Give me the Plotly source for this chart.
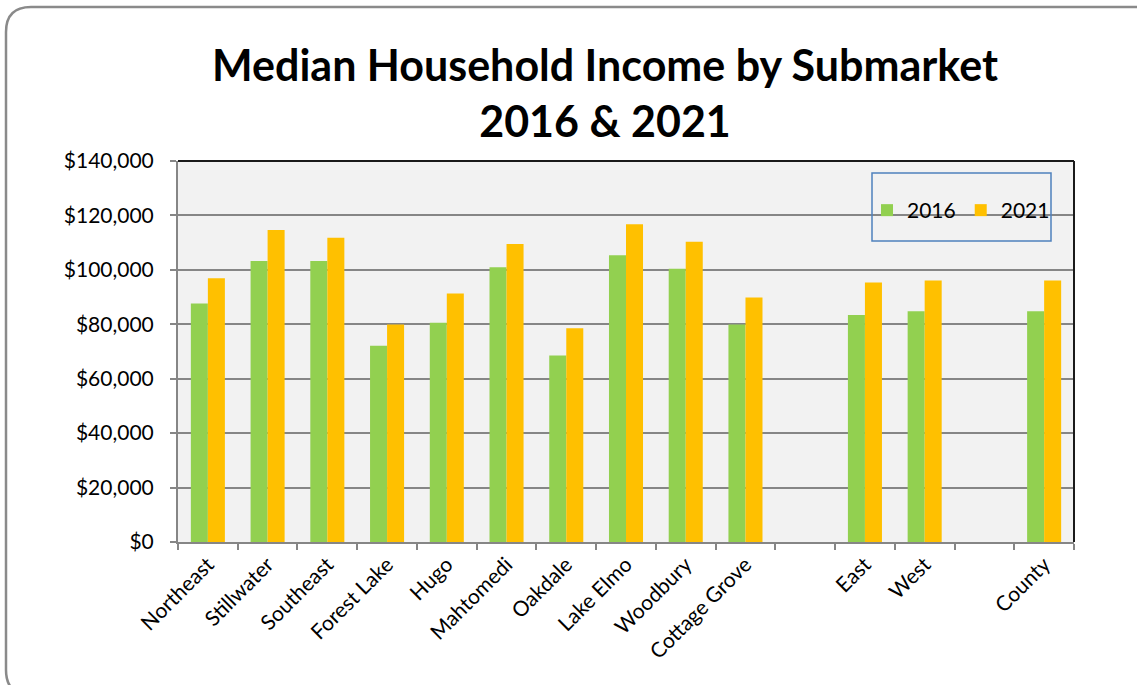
import plotly.graph_objects as go

categories = ["Northeast", "Stillwater", "Southeast", "Forest Lake", "Hugo", "Mahtomedi",
              "Oakdale", "Lake Elmo", "Woodbury", "Cottage Grove", " ", "East", "West", "  ", "County"]
income_2016 = [87600, 103300, 103300, 72100, 80600, 101000, 68500, 105400, 100400, 79900,
               None, 83400, 84800, None, 84800]
income_2021 = [96900, 114600, 111800, 79900, 91300, 109500, 78500, 116800, 110300, 89800,
               None, 95400, 96100, None, 96100]
series_names = ["2016", "2021"]
series_colors = ["#92D050", "#FFC000"]
y_ticks = [0, 20000, 40000, 60000, 80000, 100000, 120000, 140000]

W, H = 1137, 685
L, R, T, B = 178, 1074, 161, 542

fig = go.Figure()
for name, vals, col in zip(series_names, [income_2016, income_2021], series_colors):
    fig.add_trace(go.Bar(x=categories, y=vals, name=name, marker_color=col,
                         marker_line_width=0))

def px2paper_x(px):
    return (px - L) / (R - L)

def px2paper_y(py):
    return (B - py) / (B - T)

# outer rounded border
r = 25
x0, y0, x1, y1 = 6, 7, 1160, 695
path = (f"M {px2paper_x(x0)},{px2paper_y(y1 - r)} "
        f"L {px2paper_x(x0)},{px2paper_y(y0 + r)} "
        f"Q {px2paper_x(x0)},{px2paper_y(y0)} {px2paper_x(x0 + r)},{px2paper_y(y0)} "
        f"L {px2paper_x(x1 - r)},{px2paper_y(y0)} "
        f"Q {px2paper_x(x1)},{px2paper_y(y0)} {px2paper_x(x1)},{px2paper_y(y0 + r)} "
        f"L {px2paper_x(x1)},{px2paper_y(y1 - r)} "
        f"Q {px2paper_x(x1)},{px2paper_y(y1)} {px2paper_x(x1 - r)},{px2paper_y(y1)} "
        f"L {px2paper_x(x0 + r)},{px2paper_y(y1)} "
        f"Q {px2paper_x(x0)},{px2paper_y(y1)} {px2paper_x(x0)},{px2paper_y(y1 - r)} Z")

shapes = [
    dict(type="path", xref="paper", yref="paper", path=path,
         line=dict(color="#8A8A8A", width=2.5), layer="below"),
    # top and right plot-area border
    dict(type="line", xref="paper", yref="paper", x0=0, x1=1, y0=1, y1=1,
         line=dict(color="#1A1A1A", width=2)),
    dict(type="line", xref="paper", yref="paper", x0=1, x1=1, y0=0, y1=1,
         line=dict(color="#1A1A1A", width=2)),
    # legend box
    dict(type="rect", xref="paper", yref="paper",
         x0=px2paper_x(872), x1=px2paper_x(1051), y0=px2paper_y(241), y1=px2paper_y(173),
         line=dict(color="#4F81BD", width=1.5), fillcolor="rgba(0,0,0,0)"),
]

fig.update_layout(
    width=W, height=H,
    margin=dict(l=L, r=W - R, t=T, b=H - B, pad=0),
    paper_bgcolor="white",
    plot_bgcolor="#F2F2F2",
    font=dict(family="Lato, Carlito, Arial", color="black"),
    title=dict(text="<b>Median Household Income by Submarket<br>2016 &amp; 2021</b>",
               x=605 / W, xanchor="center", xref="container",
               y=1 - 81 / H, yanchor="top", yref="container",
               font=dict(size=43, family="Lato, Arial", color="black")),
    barmode="group",
    bargap=0.43,
    bargroupgap=0,
    showlegend=True,
    legend=dict(orientation="h", x=px2paper_x(867), y=px2paper_y(190), xanchor="left", yanchor="top",
                bgcolor="rgba(0,0,0,0)", borderwidth=0, font=dict(size=21),
                itemwidth=30, traceorder="normal"),
    shapes=shapes,
)

fig.update_xaxes(
    type="category", tickson="boundaries", ticks="outside", ticklen=6, tickwidth=1.5,
    tickcolor="#868686", showline=True, linecolor="#868686", linewidth=2,
    showgrid=False, tickangle=-45, tickfont=dict(size=21), fixedrange=True,
)
fig.update_yaxes(
    range=[0, 140000], tickvals=y_ticks, tickformat="$,.0f",
    ticks="outside", ticklen=6, tickwidth=1.5, tickcolor="#868686",
    showline=True, linecolor="#868686", linewidth=2,
    showgrid=True, gridcolor="#868686", gridwidth=2, zeroline=False,
    tickfont=dict(size=21), ticklabelstandoff=12, fixedrange=True,
)

fig.write_html("out.html", config={"displayModeBar": False},
               post_script="document.body.style.margin='0';document.body.style.overflow='hidden';")
